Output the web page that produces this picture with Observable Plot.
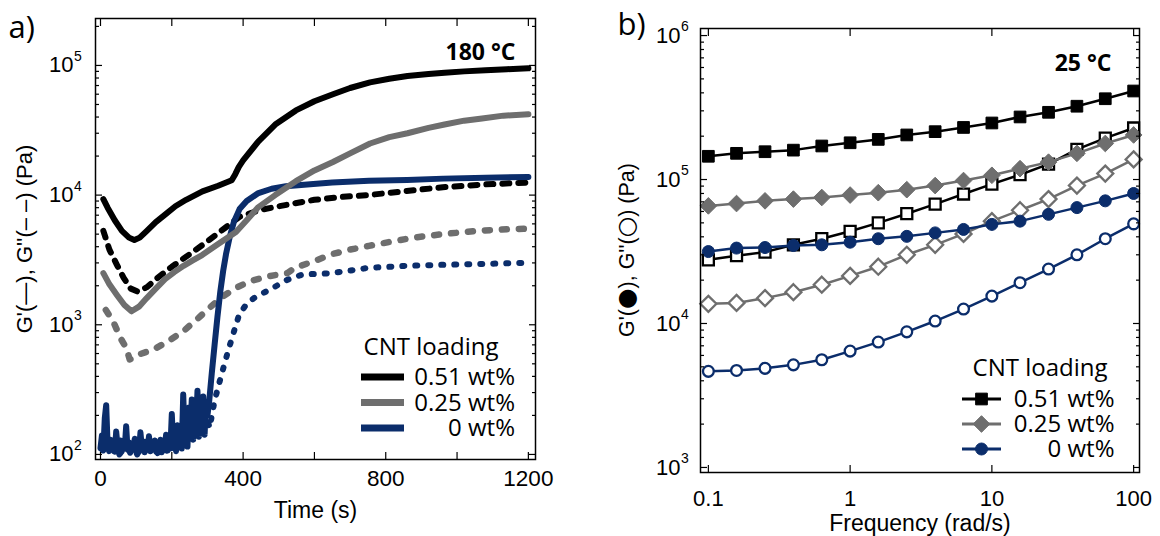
<!DOCTYPE html>
<html><head><meta charset="utf-8">
<script src="https://cdn.jsdelivr.net/npm/d3@7"></script>
<script src="https://cdn.jsdelivr.net/npm/@observablehq/plot@0.6"></script>
<style>
body{margin:0;background:#fff;}
#wrap{position:relative;width:1160px;height:536px;background:#fff;}
#pa,#pb{position:absolute;top:0;}
#pa{left:0}#pb{left:580px}
</style></head><body><div id="wrap"><div id="pa"></div><div id="pb"></div></div>
<script>
// ---------- Panel a data (Time in s, modulus in Pa) ----------
const tGp051 = [8, 20, 40, 60, 80, 95, 110, 130, 155, 182, 210, 240, 286, 330, 368, 378, 388, 400, 443, 490, 548, 600, 652, 700, 756, 810, 861, 920, 965, 1020, 1080, 1140, 1200];
const vGp051 = [9300, 8000, 6400, 5300, 4700, 4500, 4700, 5300, 6200, 7100, 8200, 9200, 10700, 11800, 13000, 14500, 16500, 18500, 26000, 35000, 45000, 53000, 60000, 67000, 74000, 79000, 83000, 86000, 88000, 90000, 92000, 93500, 95000];
const tGpp051 = [8, 25, 46, 65, 85, 105, 130, 160, 200, 250, 300, 350, 390, 450, 500, 550, 600, 680, 750, 850, 960, 1080, 1200];
const vGpp051 = [5300, 3800, 2900, 2300, 1900, 1800, 1950, 2300, 2800, 3500, 4400, 5600, 6800, 7700, 8200, 8700, 9200, 9700, 10000, 10700, 11500, 12100, 12500];
const tGp025 = [8, 25, 46, 67, 87, 108, 129, 155, 181, 207, 233, 260, 285, 330, 380, 410, 441, 490, 548, 600, 652, 700, 756, 810, 861, 920, 965, 1020, 1070, 1130, 1200];
const vGp025 = [2500, 2050, 1700, 1420, 1270, 1380, 1600, 1900, 2250, 2550, 2850, 3150, 3450, 4200, 5200, 6400, 8000, 10000, 12800, 15500, 18000, 21000, 25000, 28000, 30000, 33000, 35000, 37500, 39000, 41000, 42000];
const tGpp025 = [15, 35, 56, 72, 82, 108, 150, 191, 233, 275, 295, 337, 379, 420, 472, 524, 545, 600, 649, 700, 753, 820, 878, 960, 1055, 1148, 1190];
const vGpp025 = [1300, 1070, 790, 665, 540, 590, 646, 750, 895, 1130, 1270, 1610, 1920, 2170, 2370, 2500, 2750, 3100, 3500, 3800, 4060, 4400, 4700, 5000, 5300, 5460, 5500];
const tGp0 = [0, 4, 8, 12, 16, 20, 24, 28, 32, 36, 40, 44, 48, 52, 56, 60, 64, 68, 72, 76, 80, 84, 88, 92, 96, 100, 104, 108, 112, 116, 120, 124, 128, 132, 136, 140, 144, 148, 152, 156, 160, 164, 168, 172, 176, 180, 184, 188, 192, 196, 200, 204, 208, 212, 216, 220, 224, 228, 232, 236, 240, 244, 248, 252, 256, 260, 264, 268, 272, 276, 280, 284, 288, 292, 296, 300,
  305, 312, 320, 328, 336, 344, 352, 362, 374, 390, 410, 441, 480, 520, 597, 650, 753, 860, 961, 1080, 1200];
const vGp0 = [112, 140, 108, 190, 240, 118, 106, 130, 110, 126, 105, 150, 116, 107, 128, 106, 122, 112, 165, 109, 124, 105, 120, 110, 132, 107, 124, 105, 148, 113, 126, 104, 121, 109, 138, 106, 122, 111, 128, 105, 119, 110, 130, 104, 121, 112, 142, 107, 124, 111, 205, 115, 128, 106, 168, 120, 137, 111, 290, 142, 185, 115, 230, 147, 265, 130, 200, 152, 310, 137, 240, 162, 280, 142, 250, 200,
  260, 420, 700, 1150, 1800, 2600, 3500, 4700, 6200, 7800, 9000, 10300, 11200, 11700, 12200, 12500, 12900, 13100, 13400, 13600, 13800];
const tGpp0 = [3, 13, 23, 33, 43, 53, 63, 73, 83, 93, 103, 113, 123, 133, 143, 153, 163, 173, 183, 193, 203, 213, 223, 233, 243, 253, 263, 273, 283, 293,
  306, 320, 337, 358, 375, 389, 410, 431, 483, 520, 566, 649, 753, 860, 961, 1080, 1190];
const vGpp0 = [110, 104, 135, 102, 115, 100, 108, 125, 103, 112, 100, 118, 106, 130, 102, 110, 100, 122, 105, 140, 108, 170, 115, 200, 125, 240, 150, 280, 180, 220,
  160, 260, 390, 630, 900, 1200, 1450, 1610, 1920, 2200, 2440, 2500, 2750, 2850, 2900, 2950, 3000];

// ---------- Panel b data (Frequency in rad/s, modulus in Pa) ----------
const freq = [0.1, 0.158, 0.251, 0.398, 0.631, 1, 1.58, 2.51, 3.98, 6.31, 10, 15.8, 25.1, 39.8, 63.1, 100];
const bGp051  = [145000, 152000, 156000, 160000, 171000, 180000, 190000, 204000, 215000, 230000, 247000, 272000, 293000, 323000, 364000, 412000];
const bGpp051 = [27700, 29600, 31300, 35200, 38800, 43700, 50000, 57900, 67500, 79300, 93000, 108000, 128000, 162000, 194000, 228000];
const bGp025  = [65600, 68100, 71100, 73100, 75000, 78000, 81000, 85000, 90800, 98400, 107000, 119000, 132000, 152000, 178000, 204000];
const bGpp025 = [13700, 13900, 15000, 16500, 18600, 21400, 24800, 30000, 35200, 41900, 51400, 61200, 73100, 90800, 110000, 138000];
const bGp0    = [31600, 33400, 33700, 34800, 35200, 36700, 38800, 40300, 42600, 45000, 48800, 51400, 57300, 63800, 71100, 80000];
const bGpp0   = [4650, 4720, 4880, 5160, 5600, 6430, 7430, 8750, 10400, 12600, 15500, 19200, 23900, 30000, 38800, 49200];

// ---------- Labels / ticks ----------
const legendLabels = ["0.51 wt%", "0.25 wt%", "0 wt%"];
const legendTitle = "CNT loading";
const xTicksA = [0, 200, 400, 600, 800, 1000, 1200];
const xLabelsA = [0, 400, 800, 1200];
const yDecA = [100, 1000, 10000, 100000];
const yExpA = ["2", "3", "4", "5"];
const xDecB = [0.1, 1, 10, 100];
const xLabelsB = ["0.1", "1", "10", "100"];
const yDecB = [1000, 10000, 100000, 1000000];
const yExpB = ["3", "4", "5", "6"];
const yTitleBParts = [["G'(", false], ["●", true], ["), G''(", false], ["○", true], [") (Pa)", false]];

const BLACK = "#000000", GRAY = "#6e6e6e", BLUE = "#0b2d6b";
const colors = [BLACK, GRAY, BLUE];
const AX = "Arial, Liberation Sans, sans-serif";
const OS = "Open Sans, sans-serif";

const minorOf = (decs, lo, hi) => decs.flatMap(d => [2,3,4,5,6,7,8,9].map(k => k*d)).filter(v => v > lo && v < hi);

function axisMarks(xt, ym, ymn) {
  const s = {stroke: "#000", strokeWidth: 1.2, label: null, fill: "none"};
  return [
    Plot.axisX({anchor: "bottom", ticks: xt, tickSize: 7, dy: -7, ...s}),
    Plot.axisX({anchor: "top", ticks: xt, tickSize: 7, dy: 7, ...s}),
    Plot.axisY({anchor: "left", ticks: ym, tickSize: 7, dx: 7, ...s}),
    Plot.axisY({anchor: "right", ticks: ym, tickSize: 7, dx: -7, ...s}),
    Plot.axisY({anchor: "left", ticks: ymn, tickSize: 4, dx: 4, ...s}),
    Plot.axisY({anchor: "right", ticks: ymn, tickSize: 4, dx: -4, ...s})
  ];
}
const T = {lineAnchor: "middle"};

// ---------- Panel a ----------
const yDomA = [Math.pow(10, 1.961), Math.pow(10, 5.362)];
const lineA = (t, v, color, w, dash) => Plot.line(d3.zip(t, v), {
  x: d => d[0], y: d => d[1], stroke: color, strokeWidth: w,
  strokeDasharray: dash, strokeLinecap: "round", strokeLinejoin: "round"
});
const svgA = Plot.plot({
  width: 580, height: 536,
  marginLeft: 95, marginRight: 45, marginTop: 18, marginBottom: 77,
  x: {type: "linear", domain: [-14, 1220]},
  y: {type: "log", domain: yDomA},
  style: {background: "#fff", color: "#000", fontFamily: AX, overflow: "visible"},
  marks: [
    lineA(tGpp0, vGpp0, BLUE, 6, "2,11"),
    lineA(tGpp025, vGpp025, GRAY, 6.5, "5,12"),
    lineA(tGpp051, vGpp051, BLACK, 6, "7,9"),
    lineA(tGp0, vGp0, BLUE, 6),
    lineA(tGp025, vGp025, GRAY, 6),
    lineA(tGp051, vGp051, BLACK, 6),
    Plot.frame({stroke: "#000", strokeWidth: 1.5}),
    ...axisMarks(xTicksA, yDecA, minorOf([100,1000,10000,100000], yDomA[0], yDomA[1])),
    Plot.text(xLabelsA, {...T, x: d => d, text: d => String(d), frameAnchor: "bottom", dy: 19, fontSize: 22.5, fontFamily: AX}),
    Plot.text(yDecA, {...T, y: d => d, text: () => "10", frameAnchor: "left", dx: -22, textAnchor: "end", fontSize: 22, fontFamily: AX}),
    Plot.text(yDecA, {...T, y: d => d, text: (d, i) => yExpA[i], frameAnchor: "left", dx: -21.5, dy: -9, textAnchor: "start", fontSize: 14, fontFamily: AX}),
    Plot.text(["Time (s)"], {...T, text: d => d, frameAnchor: "bottom", dy: 51, textAnchor: "middle", fontSize: 23, fontFamily: AX}),
    Plot.text(["G'(—), G''(– –) (Pa)"], {...T, text: d => d, frameAnchor: "left", dx: -71, rotate: -90, textAnchor: "middle", fontSize: 22, fontFamily: AX}),
    Plot.text(["180 °C"], {...T, text: d => d, frameAnchor: "top-right", dx: -20, dy: 34, textAnchor: "end", fontSize: 23, fontWeight: "bold", fontFamily: OS}),
    Plot.text(["a)"], {...T, text: d => d, frameAnchor: "top-left", dx: -87, dy: 10, textAnchor: "start", fontSize: 31, fontFamily: OS})
  ]
});
document.getElementById("pa").appendChild(svgA);
(function legendA() {
  const g = d3.select(svgA).append("g").attr("font-family", OS).attr("font-size", 24).attr("fill", "#000");
  g.append("text").attr("x", 431).attr("y", 347).attr("text-anchor", "middle").attr("dy", "0.35em").text(legendTitle);
  legendLabels.forEach((lab, i) => {
    const y = 377 + i * 25.5;
    g.append("line").attr("x1", 361).attr("x2", 404).attr("y1", y).attr("y2", y)
      .attr("stroke", colors[i]).attr("stroke-width", 7);
    g.append("text").attr("x", 515).attr("y", y).attr("text-anchor", "end").attr("dy", "0.35em").text(lab);
  });
})();

// ---------- Panel b ----------
const yDomB = [Math.pow(10, 2.965), Math.pow(10, 6.049)];
const lineB = (v, color) => Plot.line(d3.zip(freq, v), {x: d => d[0], y: d => d[1], stroke: color, strokeWidth: 2.5});
const dotB = (v, color, symbol, r, open) => Plot.dot(d3.zip(freq, v), {
  x: d => d[0], y: d => d[1], symbol, r,
  fill: open ? "#fff" : color, stroke: color, strokeWidth: open ? 2.3 : 1
});
const svgB = Plot.plot({
  width: 580, height: 536,
  marginLeft: 120, marginRight: 21, marginTop: 28, marginBottom: 64,
  x: {type: "log", domain: [0.088, 110]},
  y: {type: "log", domain: yDomB},
  style: {background: "#fff", color: "#000", fontFamily: AX, overflow: "visible"},
  marks: [
    lineB(bGpp0, BLUE), lineB(bGpp025, GRAY), lineB(bGpp051, BLACK),
    dotB(bGpp0, BLUE, "circle", 5.4, true),
    dotB(bGpp025, GRAY, "diamond2", 7.2, true),
    dotB(bGpp051, BLACK, "square", 6.2, true),
    lineB(bGp0, BLUE), lineB(bGp025, GRAY), lineB(bGp051, BLACK),
    dotB(bGp0, BLUE, "circle", 6, false),
    dotB(bGp025, GRAY, "diamond2", 7.5, false),
    dotB(bGp051, BLACK, "square", 6.6, false),
    Plot.frame({stroke: "#000", strokeWidth: 1.5}),
    ...axisMarks(xDecB, yDecB, minorOf([1000,10000,100000], yDomB[0], yDomB[1])),
    Plot.text(xDecB, {...T, x: d => d, text: (d, i) => xLabelsB[i], frameAnchor: "bottom", dy: 26, fontSize: 22, fontFamily: AX}),
    Plot.text(yDecB, {...T, y: d => d, text: () => "10", frameAnchor: "left", dx: -20, textAnchor: "end", fontSize: 22, fontFamily: AX}),
    Plot.text(yDecB, {...T, y: d => d, text: (d, i) => yExpB[i], frameAnchor: "left", dx: -19.5, dy: -9, textAnchor: "start", fontSize: 14, fontFamily: AX}),
    Plot.text(["Frequency (rad/s)"], {...T, text: d => d, frameAnchor: "bottom", dy: 51, textAnchor: "middle", fontSize: 23, fontFamily: AX}),
    Plot.text(["25 °C"], {...T, text: d => d, frameAnchor: "top-right", dx: -28, dy: 35, textAnchor: "end", fontSize: 23, fontWeight: "bold", fontFamily: OS}),
    Plot.text(["b)"], {...T, text: d => d, frameAnchor: "top-left", dx: -83, dy: -3, textAnchor: "start", fontSize: 31, fontFamily: OS})
  ]
});
document.getElementById("pb").appendChild(svgB);
(function yTitleB() {
  const t = d3.select(svgB).append("text")
    .attr("transform", "translate(46,250) rotate(-90)")
    .attr("text-anchor", "middle").attr("dy", "0.35em")
    .attr("font-family", AX).attr("font-size", 21.5).attr("fill", "#000");
  yTitleBParts.forEach(([s, big]) => {
    const sp = t.append("tspan").text(s);
    if (big) sp.attr("font-size", 23.5).attr("font-family", "DejaVu Sans, sans-serif");
  });
})();
(function legendB() {
  const syms = [d3.symbolSquare, d3.symbolDiamond2, d3.symbolCircle];
  const rs = [6.6, 7.5, 6];
  const g = d3.select(svgB).append("g").attr("font-family", OS).attr("font-size", 24).attr("fill", "#000");
  g.append("text").attr("x", 460).attr("y", 368).attr("text-anchor", "middle").attr("dy", "0.35em").text(legendTitle);
  legendLabels.forEach((lab, i) => {
    const y = 399 + i * 25;
    g.append("line").attr("x1", 382).attr("x2", 421).attr("y1", y).attr("y2", y)
      .attr("stroke", colors[i]).attr("stroke-width", 3);
    g.append("path").attr("transform", `translate(401.5,${y})`)
      .attr("d", d3.symbol(syms[i], Math.PI * rs[i] * rs[i])())
      .attr("fill", colors[i]).attr("stroke", colors[i]);
    g.append("text").attr("x", 534.5).attr("y", y).attr("text-anchor", "end").attr("dy", "0.35em").text(lab);
  });
})();
</script>
</body></html>
